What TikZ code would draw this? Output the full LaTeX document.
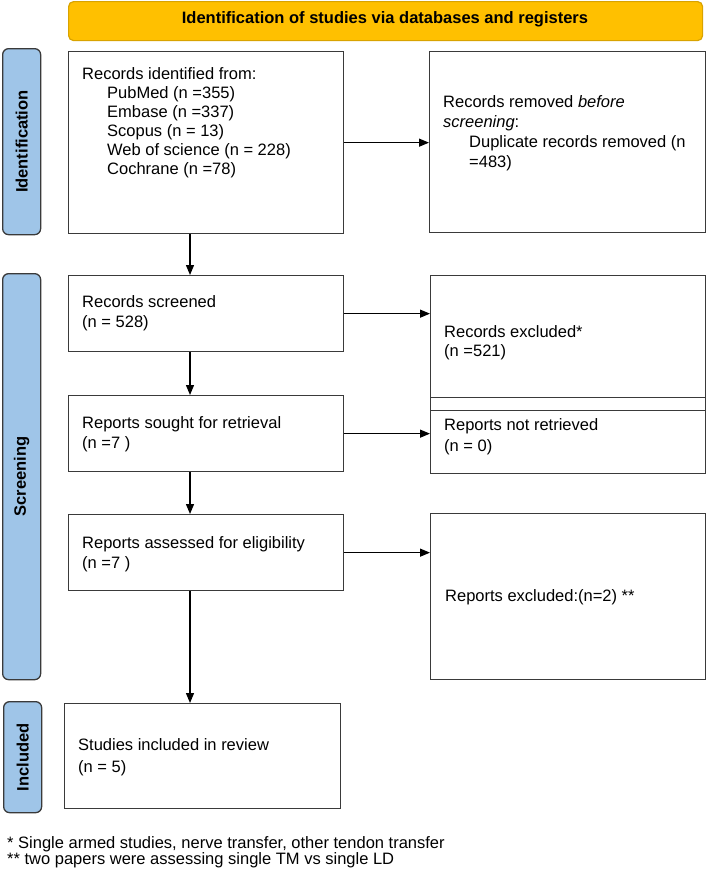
\documentclass[tikz,border=0pt]{standalone}
\usepackage{fontspec}
\setmainfont{Liberation Sans}
\usetikzlibrary{arrows.meta}
\definecolor{hdrfill}{HTML}{FFC000}
\definecolor{hdrline}{HTML}{D9A300}
\definecolor{barfill}{HTML}{9FC5E8}
\definecolor{boxline}{HTML}{3A3A3A}
\tikzset{
  box/.style={draw=boxline, line width=1.3pt, fill=white, rectangle, inner sep=0pt, anchor=north west},
  bar/.style={draw=boxline, line width=1.3pt, fill=barfill, rectangle, rounded corners=6pt, inner sep=0pt, anchor=north west},
  hdr/.style={draw=hdrline, line width=1.2pt, fill=hdrfill, rectangle, rounded corners=5pt, inner sep=0pt, anchor=north west},
  txt/.style={inner sep=0pt, anchor=north west, align=left, font=\fontsize{16.5}{20}\selectfont},
  lbl/.style={inner sep=0pt, rotate=90, font=\fontsize{16.5}{20}\selectfont\bfseries},
  arr/.style={line width=1.2pt, -{Triangle[length=10pt,width=8pt]}},
}
\begin{document}
\begin{tikzpicture}[x=1pt,y=-1pt]
\useasboundingbox (0,0) rectangle (708,871);
% header
\node[hdr, minimum width=634pt, minimum height=39pt] (hdr) at (68,1) {};
\node[inner sep=0pt, font=\fontsize{16.5}{20}\selectfont\bfseries] (hdrt) at (385,19) {Identification of studies via databases and registers};
% side bars
\node[bar, minimum width=38pt, minimum height=186pt] (bid) at (2,48) {};
\node[lbl] (bidt) at (bid.center) {Identification};
\node[bar, minimum width=38pt, minimum height=406pt] (bscr) at (2,273) {};
\node[lbl] (bscrt) at (bscr.center) {Screening};
\node[bar, minimum width=38pt, minimum height=111pt] (binc) at (3,701) {};
\node[lbl] (binct) at (binc.center) {Included};
% boxes
\node[box, minimum width=275pt, minimum height=182pt] (b1) at (68,51) {};
\node[box, minimum width=276pt, minimum height=181pt] (b2) at (429,51) {};
\node[box, minimum width=275pt, minimum height=76pt] (b3) at (68,275) {};
\node[box, minimum width=275pt, minimum height=122pt] (b4) at (430,275) {};
\node[box, minimum width=275pt, minimum height=13pt] (strip) at (430,397) {};
\node[box, minimum width=275pt, minimum height=63pt] (b5) at (430,410) {};
\node[box, minimum width=275pt, minimum height=76pt] (b6) at (68,395) {};
\node[box, minimum width=275pt, minimum height=76pt] (b7) at (68,514) {};
\node[box, minimum width=275pt, minimum height=166pt] (b8) at (430,513) {};
\node[box, minimum width=276pt, minimum height=105pt] (b9) at (64,703) {};
% texts
\node[txt, font=\fontsize{16.5}{19}\selectfont] (t1) at (82,67.5) {Records identified from:\\
\hspace*{25pt}PubMed (n =355)\\
\hspace*{25pt}Embase (n =337)\\
\hspace*{25pt}Scopus (n = 13)\\
\hspace*{25pt}Web of science (n = 228)\\
\hspace*{25pt}Cochrane (n =78)};
\node[txt] (t2) at (443,95.5) {Records removed \textit{before}\\
\textit{screening}:\\
\hspace*{26pt}Duplicate records removed (n\\
\hspace*{26pt}=483)};
\node[txt] (t3) at (82,295.5) {Records screened\\(n = 528)};
\node[txt, font=\fontsize{16.5}{19}\selectfont] (t4) at (444,325.5) {Records excluded*\\(n =521)};
\node[txt, font=\fontsize{16.5}{21}\selectfont] (t5) at (444,418.5) {Reports not retrieved\\(n = 0)};
\node[txt] (t6) at (82,416.5) {Reports sought for retrieval\\(n =7 )};
\node[txt] (t7) at (82,536.5) {Reports assessed for eligibility\\(n =7 )};
\node[txt] (t8) at (445,589.5) {Reports excluded:(n=2) **};
\node[txt, font=\fontsize{16.5}{22}\selectfont] (t9) at (78,738.5) {Studies included in review\\(n = 5)};
\node[txt, font=\fontsize{16.5}{15.7}\selectfont] (fn) at (7,836.5) {* Single armed studies, nerve transfer, other tendon transfer\\
** two papers were assessing single TM vs single LD};
% connectors
\coordinate (ax) at (190,0);
\draw[arr] (b1.east) -- (b1.east -| b2.west);
\draw[arr] (ax |- b1.south) -- (ax |- b3.north);
\draw[arr] (b3.east) -- (b3.east -| b4.west);
\draw[arr] (ax |- b3.south) -- (ax |- b6.north);
\draw[arr] (b6.east) -- (b6.east -| b5.west);
\draw[arr] (ax |- b6.south) -- (ax |- b7.north);
\draw[arr] (b7.east) -- (b7.east -| b8.west);
\draw[arr] (ax |- b7.south) -- (ax |- b9.north);
\end{tikzpicture}
\end{document}
